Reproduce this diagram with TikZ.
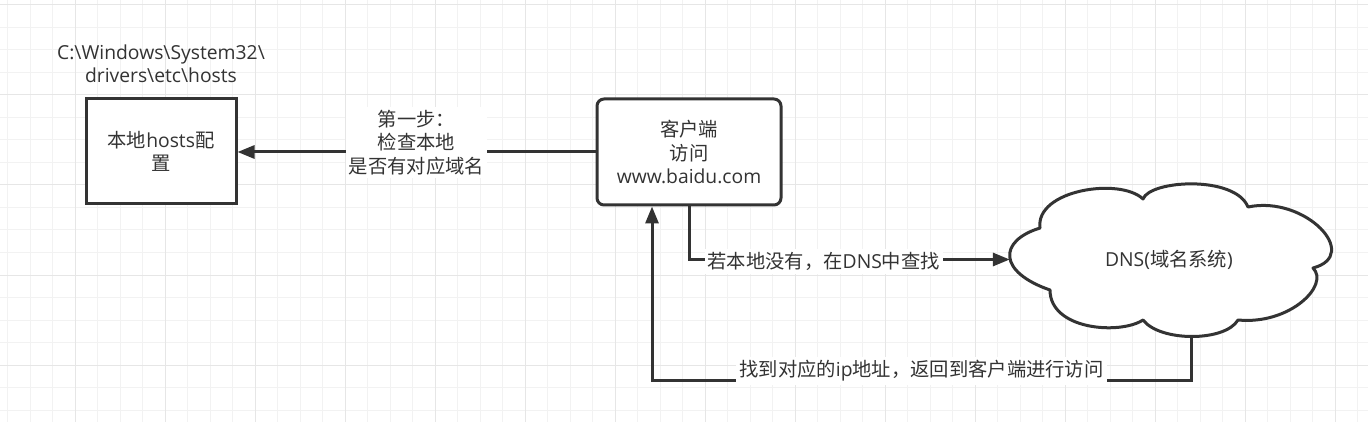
\documentclass[tikz,border=0pt]{standalone}
\usepackage{fontspec}
\setmainfont{Open Sans}
\newfontfamily\cjk{Noto Sans CJK SC}
\usetikzlibrary{arrows.meta}
\definecolor{ink}{HTML}{333333}
\definecolor{gridlt}{HTML}{F2F2F2}
\definecolor{griddk}{HTML}{E6E6E6}

\begin{document}
\begin{tikzpicture}[x=1pt, y=-1pt,
  txt/.style={font=\fontsize{19.3}{23.5}\selectfont, text=ink, align=center, inner sep=2pt},
  box/.style={txt, draw=ink, line width=3pt, fill=white, minimum width=150pt, minimum height=105pt},
  rbox/.style={box, rounded corners=7pt, minimum width=184pt, minimum height=106pt},
  lbl/.style={txt, fill=white, inner sep=3pt},
  arr/.style={draw=ink, line width=3pt, -{Triangle[length=17pt,width=13pt]}},
  cloudline/.style={draw=ink, line width=3pt, fill=white, line join=round},
  gridfine/.style={draw=gridlt, line width=1pt},
  gridbold/.style={draw=griddk, line width=1pt}
]
\useasboundingbox[fill=white] (0,0) rectangle (1368,422);

% background grid
\foreach \gx in {0,...,60} \draw[gridfine] (7.5+22.5*\gx,0) -- (7.5+22.5*\gx,422);
\foreach \gy in {0,...,18} \draw[gridfine] (0,5+22.5*\gy) -- (1368,5+22.5*\gy);
\foreach \gx in {0,...,14} \draw[gridbold] (75+90*\gx,0) -- (75+90*\gx,422);
\foreach \gy in {0,...,4} \draw[gridbold] (0,5+90*\gy) -- (1368,5+90*\gy);

% boxes
\node[txt] (hostspath) at (161,64) {C:\textbackslash Windows\textbackslash System32\textbackslash\\drivers\textbackslash etc\textbackslash hosts};
\node[box] (hosts) at (161,151.5) {{\cjk 本地}hosts{\cjk 配}\\{\cjk 置}};
\node[rbox] (client) at (689,152) {{\cjk 客户端}\\{\cjk 访问}\\www.baidu.com};

% DNS cloud
\path[cloudline] (1050,290) .. controls (998,272) and (998,241) .. (1040,228)
  .. controls (1035,190) and (1120,177) .. (1143,199)
  .. controls (1150,180) and (1235,175) .. (1248,207)
  .. controls (1305,195) and (1362,255) .. (1313,268)
  .. controls (1330,285) and (1290,325) .. (1238,320)
  .. controls (1225,342) and (1160,342) .. (1143,320)
  .. controls (1120,335) and (1050,330) .. (1050,290) -- cycle;
\node[txt, minimum width=318pt, minimum height=151pt] (dns) at (1169,259.5) {DNS({\cjk 域名系统})};
\coordinate (dnsbot) at (1191,335);

% connectors
\draw[arr] (client.west) -- node[lbl, yshift=9.5pt] {{\cjk 第一步：}\\{\cjk 检查本地}\\{\cjk 是否有对应域名}} (client.west -| hosts.east);
\draw[arr] (client.south) |- node[lbl, pos=0.71, yshift=-2pt] {{\cjk 若本地没有，在}DNS{\cjk 中查找}} (dns.west);
\draw[arr] (dnsbot) -- ++(0,45) -| node[lbl, pos=0.25, yshift=9pt] {{\cjk 找到对应的}ip{\cjk 地址，返回到客户端进行访问}} ([xshift=-37pt]client.south);
\end{tikzpicture}
\end{document}
